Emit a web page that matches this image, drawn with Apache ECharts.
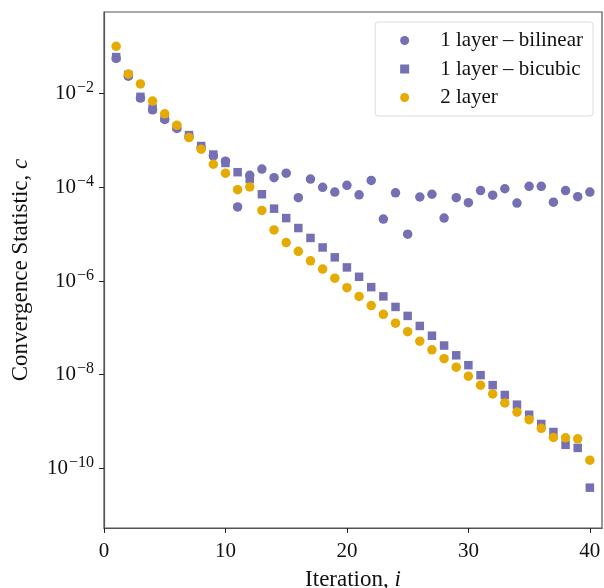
<!DOCTYPE html>
<html>
<head>
<meta charset="utf-8">
<script src="https://cdn.jsdelivr.net/npm/echarts@6/dist/echarts.min.js"></script>
<style>
  html, body { margin: 0; padding: 0; background: #fff; }
  #chart { width: 604px; height: 588px; }
</style>
</head>
<body>
<div id="chart"></div>
<script>
// Iteration index
const iterations = [1,2,3,4,5,6,7,8,9,10,11,12,13,14,15,16,17,18,19,20,
                    21,22,23,24,25,26,27,28,29,30,31,32,33,34,35,36,37,38,39,40];

// Convergence statistic c per iteration
const bilinear = [5.6e-2,2.35e-2,8.0e-3,4.5e-3,2.8e-3,1.8e-3,1.2e-3,7.1e-4,4.7e-4,3.6e-4,
                  3.8e-5,1.8e-4,2.45e-4,1.6e-4,2.0e-4,6.0e-5,1.5e-4,1.0e-4,7.9e-5,1.1e-4,
                  6.9e-5,1.4e-4,2.1e-5,7.6e-5,1.0e-5,6.2e-5,7.1e-5,2.2e-5,6.0e-5,4.7e-5,
                  8.5e-5,6.8e-5,9.3e-5,4.6e-5,1.05e-4,1.05e-4,4.8e-5,8.5e-5,6.3e-5,7.9e-5];

const bicubic = [6.0e-2,2.5e-2,8.5e-3,4.8e-3,3.0e-3,1.95e-3,1.3e-3,7.6e-4,5.0e-4,3.3e-4,
                 2.1e-4,1.5e-4,7.1e-5,3.5e-5,2.2e-5,1.35e-5,8.3e-6,5.2e-6,3.2e-6,1.95e-6,
                 1.23e-6,7.4e-7,4.7e-7,2.8e-7,1.8e-7,1.1e-7,6.8e-8,4.2e-8,2.6e-8,1.6e-8,
                 9.8e-9,6.0e-9,3.7e-9,2.3e-9,1.4e-9,8.9e-10,6.0e-10,3.2e-10,2.75e-10,3.9e-11];

const twoLayer = [1.02e-1,2.6e-2,1.6e-2,6.9e-3,3.7e-3,2.1e-3,1.15e-3,6.5e-4,3.1e-4,2.0e-4,
                  8.9e-5,1.02e-4,3.2e-5,1.23e-5,6.6e-6,4.3e-6,2.7e-6,1.8e-6,1.15e-6,7.2e-7,
                  4.7e-7,3.0e-7,1.95e-7,1.26e-7,8.3e-8,5.2e-8,3.4e-8,2.2e-8,1.45e-8,9.3e-9,
                  6.0e-9,3.9e-9,2.5e-9,1.6e-9,1.1e-9,7.2e-10,4.6e-10,4.5e-10,4.3e-10,1.5e-10];

const threshold = 1e-3;

const xTicks = [0, 10, 20, 30, 40];
const yTicks = [1e-10, 1e-8, 1e-6, 1e-4, 1e-2];

const seriesNames = ['1 layer \u2013 bilinear', '1 layer \u2013 bicubic', '2 layer'];

const FONT = '"Liberation Serif", "DejaVu Serif", serif';
const PURPLE = '#7570b3';
const GOLD = '#e6ab02';
const FRAME = '#555555';

const pairs = ys => iterations.map((x, k) => [x, ys[k]]);

const chart = echarts.init(document.getElementById('chart'), null, { renderer: 'canvas' });

chart.setOption({
  animation: false,
  backgroundColor: '#fff',
  textStyle: { fontFamily: FONT },
  grid: {
    left: 104, right: 2, top: 12, bottom: 60,
    outerBoundsMode: 'none',
    containLabel: false,
    show: true, borderColor: FRAME, borderWidth: 1.2, backgroundColor: 'transparent'
  },
  legend: {
    orient: 'vertical',
    right: 11,
    top: 22,
    align: 'left',
    itemWidth: 9,
    itemHeight: 9,
    itemGap: 7.5,
    padding: [8, 10, 8, 25],
    borderColor: '#dcdcdc',
    borderWidth: 1,
    borderRadius: 3,
    backgroundColor: 'rgba(255,255,255,0.8)',
    textStyle: { fontFamily: FONT, fontSize: 21, color: '#111', lineHeight: 20, padding: [0, 0, 0, 26] },
    data: [
      { name: seriesNames[0], icon: 'circle' },
      { name: seriesNames[1], icon: 'rect' },
      { name: seriesNames[2], icon: 'circle' }
    ]
  },
  xAxis: {
    type: 'value',
    min: 0,
    max: 41,
    name: '{t|Iteration, }{i|i}',
    nameLocation: 'middle',
    nameGap: 40,
    nameTextStyle: {
      rich: {
        t: { fontFamily: FONT, fontSize: 23, color: '#111' },
        i: { fontFamily: FONT, fontSize: 23, fontStyle: 'italic', color: '#111' }
      }
    },
    axisLine: { show: true, lineStyle: { color: FRAME, width: 1.2 } },
    axisTick: { show: true, inside: false, length: 5, customValues: xTicks, lineStyle: { color: '#222', width: 1 } },
    axisLabel: { customValues: xTicks, fontFamily: FONT, fontSize: 21, color: '#111', margin: 13 },
    splitLine: { show: false }
  },
  yAxis: {
    type: 'log',
    logBase: 10,
    min: Math.pow(10, -11.27),
    max: Math.pow(10, -0.26),
    name: '{t|Convergence Statistic, }{i|c}',
    nameLocation: 'middle',
    nameGap: 72,
    nameRotate: 90,
    nameTextStyle: {
      rich: {
        t: { fontFamily: FONT, fontSize: 23, color: '#111' },
        i: { fontFamily: FONT, fontSize: 23, fontStyle: 'italic', color: '#111' }
      }
    },
    axisLine: { show: true, lineStyle: { color: FRAME, width: 1.2 } },
    axisTick: { show: true, inside: false, length: 5, customValues: yTicks, lineStyle: { color: '#222', width: 1 } },
    minorTick: { show: false },
    axisLabel: {
      customValues: yTicks,
      margin: 10,
      formatter: v => '{b|10}{s|\u2212' + Math.round(-Math.log10(v)) + '}',
      rich: {
        b: { fontFamily: FONT, fontSize: 21, color: '#111' },
        s: { fontFamily: FONT, fontSize: 16, color: '#111', padding: [0, 0, 11, 1] }
      }
    },
    splitLine: { show: false }
  },
  series: [
    {
      name: seriesNames[0],
      type: 'scatter',
      symbol: 'circle',
      symbolSize: 9.5,
      itemStyle: { color: PURPLE, opacity: 1 },
      data: pairs(bilinear),
      markLine: {
        silent: true,
        symbol: 'none',
        label: { show: false },
        lineStyle: { color: '#8a8a8a', type: [5.5, 2.5], width: 1.2 },
        data: [{ yAxis: threshold }]
      },
      z: 2
    },
    {
      name: seriesNames[1],
      type: 'scatter',
      symbol: 'rect',
      symbolSize: 8.5,
      itemStyle: { color: PURPLE, opacity: 1 },
      data: pairs(bicubic),
      z: 3
    },
    {
      name: seriesNames[2],
      type: 'scatter',
      symbol: 'circle',
      symbolSize: 9.5,
      itemStyle: { color: GOLD, opacity: 1 },
      data: pairs(twoLayer),
      z: 4
    }
  ]
});
</script>
</body>
</html>
